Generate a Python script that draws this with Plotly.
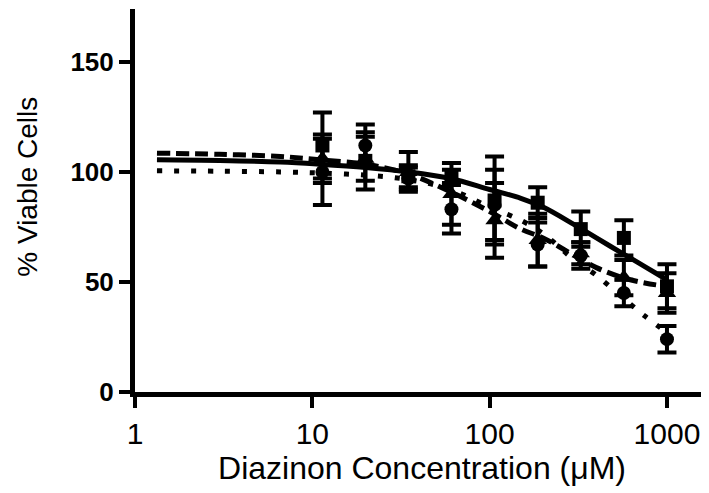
import plotly.graph_objects as go

# Data points (concentration in uM)
conc = [11.4, 19.9, 34.8, 60.9, 106.6, 186.6, 326.5, 571.4, 1000]

sq_y = [112, 105, 98, 98, 87, 86, 74, 70, 48]
sq_err = [15, 13, 5, 3, 20, 7, 8, 8, 10]

tri_y = [106, 106, 100, 90, 78, 69, 63, 52, 45]
tri_err = [11, 10, 9, 14, 17, 12, 5, 8, 9]

cir_y = [100, 112, 97, 83, 85, 67, 62, 45, 24]
cir_err = [15, 9.5, 5, 11, 16, 10, 6, 6, 6]

# Fitted curves
curve_x = [1.33, 3, 6.6, 11, 20, 35, 60, 100, 150, 200, 300, 400, 560, 750, 1000]
solid_y = [105.5, 105.2, 104.5, 103.5, 102, 100, 97, 92, 88, 84, 76, 70, 63, 57, 51]
dash_y = [108.5, 108, 107, 105.5, 103.5, 99, 91, 82, 74, 70, 62, 56.5, 52, 49.5, 48]
dot_y = [100.5, 100.3, 100, 99.5, 98.5, 96.5, 92, 84, 78, 72, 60, 53, 43, 34.5, 27]

x_tickvals = [1, 10, 100, 1000]
x_ticktext = ["1", "10", "100", "1000"]
y_tickvals = [0, 50, 100, 150]

FONT = "Liberation Sans, Arial, Helvetica, sans-serif"

fig = go.Figure()

fig.add_trace(go.Scatter(x=curve_x, y=solid_y, mode="lines", line=dict(color="black", width=5, shape="spline"), showlegend=False))
fig.add_trace(go.Scatter(x=curve_x, y=dash_y, mode="lines", line=dict(color="black", width=5, dash="13px,6px", shape="spline"), showlegend=False))
fig.add_trace(go.Scatter(x=curve_x, y=dot_y, mode="lines", line=dict(color="black", width=5, dash="5px,12px", shape="spline"), showlegend=False))

def pts(y, err, symbol, size):
    return go.Scatter(
        x=conc, y=y, mode="markers",
        marker=dict(symbol=symbol, size=size, color="black"),
        error_y=dict(type="data", array=err, visible=True, color="black", thickness=4, width=9.5),
        showlegend=False,
    )

fig.add_trace(pts(tri_y, tri_err, "triangle-up", 16))
fig.add_trace(pts(cir_y, cir_err, "circle", 14))
fig.add_trace(pts(sq_y, sq_err, "square", 14))

# The page body has an 8px default margin, so the figure is made 8px smaller
fig.update_layout(
    width=701, height=485,
    margin=dict(l=127, r=0, t=1, b=101),
    paper_bgcolor="white", plot_bgcolor="white",
    font=dict(family=FONT, color="black"),
    xaxis=dict(
        type="log", range=[0, 3.237],
        tickvals=x_tickvals, ticktext=x_ticktext,
        ticks="outside", ticklen=11, tickwidth=4, tickcolor="black",
        showline=True, linewidth=5, linecolor="black",
        showgrid=False, zeroline=False,
        tickfont=dict(size=30, family=FONT),
        title=dict(text="Diazinon Concentration (μM)", font=dict(size=32, family=FONT), standoff=8),
    ),
    yaxis=dict(
        range=[0, 174],
        tickvals=y_tickvals,
        ticks="outside", ticklen=11, tickwidth=4, tickcolor="black",
        showline=True, linewidth=5, linecolor="black",
        showgrid=False, zeroline=False,
        tickfont=dict(size=26, family=FONT, weight="bold"),
    ),
    annotations=[dict(
        text="% Viable Cells", textangle=-90, showarrow=False,
        xref="paper", yref="paper", x=-0.1864, y=0.536,
        xanchor="center", yanchor="middle",
        font=dict(size=28, family=FONT, color="black"),
    )],
)

fig.write_html("out.html")
